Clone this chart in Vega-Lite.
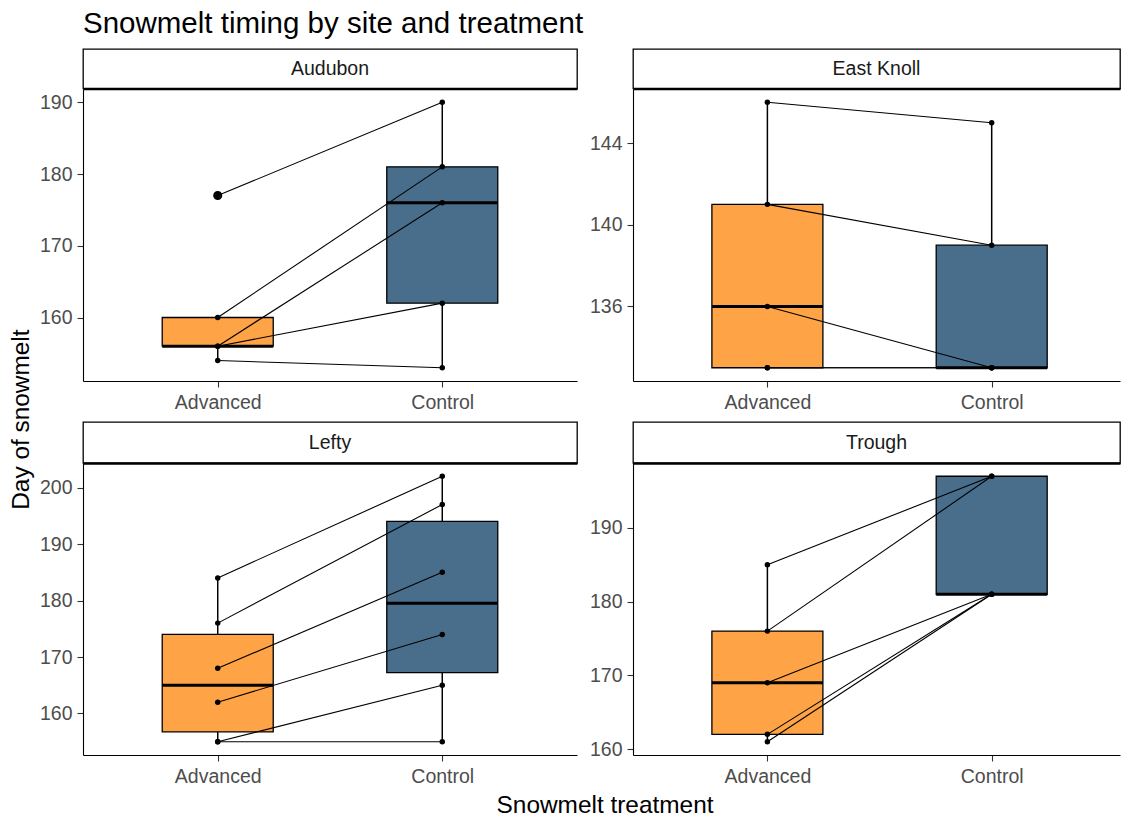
{
  "$schema": "https://vega.github.io/schema/vega-lite/v6.json",
  "background": "white",
  "padding": {"left": 9, "top": 8, "right": 0, "bottom": 0},
  "title": {"text": "Snowmelt timing by site and treatment", "anchor": "start", "frame": "group", "font": "Liberation Sans", "fontSize": 29.5, "fontWeight": "normal", "color": "#000000", "offset": 9},
  "datasets": {
    "snow": [
      {"site": "Audubon", "treatment": "Advanced", "pair": 1, "day": 177},
      {"site": "Audubon", "treatment": "Control", "pair": 1, "day": 190},
      {"site": "Audubon", "treatment": "Advanced", "pair": 2, "day": 160},
      {"site": "Audubon", "treatment": "Control", "pair": 2, "day": 181},
      {"site": "Audubon", "treatment": "Advanced", "pair": 3, "day": 156},
      {"site": "Audubon", "treatment": "Control", "pair": 3, "day": 176},
      {"site": "Audubon", "treatment": "Advanced", "pair": 4, "day": 156},
      {"site": "Audubon", "treatment": "Control", "pair": 4, "day": 162},
      {"site": "Audubon", "treatment": "Advanced", "pair": 5, "day": 154},
      {"site": "Audubon", "treatment": "Control", "pair": 5, "day": 153},
      {"site": "East Knoll", "treatment": "Advanced", "pair": 1, "day": 146},
      {"site": "East Knoll", "treatment": "Control", "pair": 1, "day": 145},
      {"site": "East Knoll", "treatment": "Advanced", "pair": 2, "day": 141},
      {"site": "East Knoll", "treatment": "Control", "pair": 2, "day": 139},
      {"site": "East Knoll", "treatment": "Advanced", "pair": 3, "day": 136},
      {"site": "East Knoll", "treatment": "Control", "pair": 3, "day": 133},
      {"site": "East Knoll", "treatment": "Advanced", "pair": 4, "day": 133},
      {"site": "East Knoll", "treatment": "Control", "pair": 4, "day": 133},
      {"site": "East Knoll", "treatment": "Advanced", "pair": 5, "day": 133},
      {"site": "East Knoll", "treatment": "Control", "pair": 5, "day": 133},
      {"site": "Lefty", "treatment": "Advanced", "pair": 1, "day": 184},
      {"site": "Lefty", "treatment": "Control", "pair": 1, "day": 202},
      {"site": "Lefty", "treatment": "Advanced", "pair": 2, "day": 176},
      {"site": "Lefty", "treatment": "Control", "pair": 2, "day": 197},
      {"site": "Lefty", "treatment": "Advanced", "pair": 3, "day": 168},
      {"site": "Lefty", "treatment": "Control", "pair": 3, "day": 185},
      {"site": "Lefty", "treatment": "Advanced", "pair": 4, "day": 162},
      {"site": "Lefty", "treatment": "Control", "pair": 4, "day": 174},
      {"site": "Lefty", "treatment": "Advanced", "pair": 5, "day": 155},
      {"site": "Lefty", "treatment": "Control", "pair": 5, "day": 165},
      {"site": "Lefty", "treatment": "Advanced", "pair": 6, "day": 155},
      {"site": "Lefty", "treatment": "Control", "pair": 6, "day": 155},
      {"site": "Trough", "treatment": "Advanced", "pair": 1, "day": 185},
      {"site": "Trough", "treatment": "Control", "pair": 1, "day": 197},
      {"site": "Trough", "treatment": "Advanced", "pair": 2, "day": 176},
      {"site": "Trough", "treatment": "Control", "pair": 2, "day": 197},
      {"site": "Trough", "treatment": "Advanced", "pair": 3, "day": 169},
      {"site": "Trough", "treatment": "Control", "pair": 3, "day": 181},
      {"site": "Trough", "treatment": "Advanced", "pair": 4, "day": 162},
      {"site": "Trough", "treatment": "Control", "pair": 4, "day": 181},
      {"site": "Trough", "treatment": "Advanced", "pair": 5, "day": 161},
      {"site": "Trough", "treatment": "Control", "pair": 5, "day": 181}
    ]
  },
  "vconcat": [
    {
      "title": {"text": "Day of snowmelt", "orient": "left", "anchor": "middle", "frame": "bounds", "font": "Liberation Sans", "fontSize": 24.4, "fontWeight": "normal", "color": "#000000", "offset": 5, "dx": 13},
      "vconcat": [
        {
          "title": {"text": "Snowmelt treatment", "orient": "bottom", "anchor": "middle", "frame": "bounds", "font": "Liberation Sans", "fontSize": 24.4, "fontWeight": "normal", "color": "#000000", "offset": 8, "dx": 25},
          "spacing": 9,
          "vconcat": [
            {
              "spacing": 11,
              "hconcat": [
                {
                  "bounds": "flush",
                  "spacing": 0,
                  "vconcat": [
                    {
                      "data": {"name": "snow"},
                      "transform": [{"filter": "datum.site === 'Audubon'"}, {"aggregate": [{"op": "count", "as": "n"}], "groupby": ["site"]}],
                      "width": 494, "height": 39.5,
                      "view": {"stroke": "#000000", "strokeWidth": 1.3, "fill": "white"},
                      "mark": {"type": "text", "font": "Liberation Sans", "fontSize": 19.5, "color": "#1A1A1A"},
                      "encoding": {
                        "x": {"field": "site", "type": "nominal", "scale": {"type": "point"}, "axis": {"labels": false, "ticks": false, "title": null, "domainWidth": 2.6, "domainColor": "#000000", "minExtent": 0, "maxExtent": 0}},
                        "text": {"field": "site"}
                      }
                    },
                    {
                      "data": {"name": "snow"},
                      "transform": [{"filter": "datum.site === 'Audubon'"}],
                      "width": 494, "height": 292,
                      "encoding": {
                        "x": {"field": "treatment", "type": "nominal", "scale": {"type": "point", "padding": 0.6}, "axis": {"title": null}},
                        "y": {"field": "day", "type": "quantitative", "scale": {"domain": [151.15, 191.85], "nice": false, "zero": false}, "axis": {"title": null, "values": [160, 170, 180, 190]}}
                      },
                      "layer": [
                        {"mark": {"type": "boxplot", "size": 111, "extent": 1.5, "box": {"stroke": "#000000", "strokeWidth": 1.3}, "median": {"color": "#000000", "thickness": 3, "opacity": 1}, "rule": {"color": "#000000", "strokeWidth": 1.5}, "outliers": {"stroke": "#000000", "strokeWidth": 2, "filled": true, "size": 50, "opacity": 1}},
                         "encoding": {"color": {"field": "treatment", "type": "nominal", "scale": {"domain": ["Advanced", "Control"], "range": ["#FEA346", "#496E8B"]}, "legend": null}}},
                        {"mark": {"type": "line", "color": "#000000", "strokeWidth": 1.1}, "encoding": {"detail": {"field": "pair", "type": "nominal"}}},
                        {"mark": {"type": "point", "filled": true, "color": "#000000", "size": 30, "opacity": 1}}
                      ]
                    }
                  ]
                },
                {
                  "bounds": "flush",
                  "spacing": 0,
                  "vconcat": [
                    {
                      "data": {"name": "snow"},
                      "transform": [{"filter": "datum.site === 'East Knoll'"}, {"aggregate": [{"op": "count", "as": "n"}], "groupby": ["site"]}],
                      "width": 487, "height": 39.5,
                      "view": {"stroke": "#000000", "strokeWidth": 1.3, "fill": "white"},
                      "mark": {"type": "text", "font": "Liberation Sans", "fontSize": 19.5, "color": "#1A1A1A"},
                      "encoding": {
                        "x": {"field": "site", "type": "nominal", "scale": {"type": "point"}, "axis": {"labels": false, "ticks": false, "title": null, "domainWidth": 2.6, "domainColor": "#000000", "minExtent": 0, "maxExtent": 0}},
                        "text": {"field": "site"}
                      }
                    },
                    {
                      "data": {"name": "snow"},
                      "transform": [{"filter": "datum.site === 'East Knoll'"}],
                      "width": 487, "height": 292,
                      "encoding": {
                        "x": {"field": "treatment", "type": "nominal", "scale": {"type": "point", "padding": 0.5856, "align": 0.5116}, "axis": {"title": null}},
                        "y": {"field": "day", "type": "quantitative", "scale": {"domain": [132.35, 146.65], "nice": false, "zero": false}, "axis": {"title": null, "values": [136, 140, 144]}}
                      },
                      "layer": [
                        {"mark": {"type": "boxplot", "size": 111, "extent": 1.5, "box": {"stroke": "#000000", "strokeWidth": 1.3}, "median": {"color": "#000000", "thickness": 3, "opacity": 1}, "rule": {"color": "#000000", "strokeWidth": 1.5}, "outliers": {"stroke": "#000000", "strokeWidth": 2, "filled": true, "size": 50, "opacity": 1}},
                         "encoding": {"color": {"field": "treatment", "type": "nominal", "scale": {"domain": ["Advanced", "Control"], "range": ["#FEA346", "#496E8B"]}, "legend": null}}},
                        {"mark": {"type": "line", "color": "#000000", "strokeWidth": 1.1}, "encoding": {"detail": {"field": "pair", "type": "nominal"}}},
                        {"mark": {"type": "point", "filled": true, "color": "#000000", "size": 30, "opacity": 1}}
                      ]
                    }
                  ]
                }
              ]
            },
            {
              "spacing": 11,
              "hconcat": [
                {
                  "bounds": "flush",
                  "spacing": 0,
                  "vconcat": [
                    {
                      "data": {"name": "snow"},
                      "transform": [{"filter": "datum.site === 'Lefty'"}, {"aggregate": [{"op": "count", "as": "n"}], "groupby": ["site"]}],
                      "width": 494, "height": 41,
                      "view": {"stroke": "#000000", "strokeWidth": 1.3, "fill": "white"},
                      "mark": {"type": "text", "font": "Liberation Sans", "fontSize": 19.5, "color": "#1A1A1A"},
                      "encoding": {
                        "x": {"field": "site", "type": "nominal", "scale": {"type": "point"}, "axis": {"labels": false, "ticks": false, "title": null, "domainWidth": 2.6, "domainColor": "#000000", "minExtent": 0, "maxExtent": 0}},
                        "text": {"field": "site"}
                      }
                    },
                    {
                      "data": {"name": "snow"},
                      "transform": [{"filter": "datum.site === 'Lefty'"}],
                      "width": 494, "height": 292,
                      "encoding": {
                        "x": {"field": "treatment", "type": "nominal", "scale": {"type": "point", "padding": 0.6}, "axis": {"title": null}},
                        "y": {"field": "day", "type": "quantitative", "scale": {"domain": [152.65, 204.35], "nice": false, "zero": false}, "axis": {"title": null, "values": [160, 170, 180, 190, 200]}}
                      },
                      "layer": [
                        {"mark": {"type": "boxplot", "size": 111, "extent": 1.5, "box": {"stroke": "#000000", "strokeWidth": 1.3}, "median": {"color": "#000000", "thickness": 3, "opacity": 1}, "rule": {"color": "#000000", "strokeWidth": 1.5}, "outliers": {"stroke": "#000000", "strokeWidth": 2, "filled": true, "size": 50, "opacity": 1}},
                         "encoding": {"color": {"field": "treatment", "type": "nominal", "scale": {"domain": ["Advanced", "Control"], "range": ["#FEA346", "#496E8B"]}, "legend": null}}},
                        {"mark": {"type": "line", "color": "#000000", "strokeWidth": 1.1}, "encoding": {"detail": {"field": "pair", "type": "nominal"}}},
                        {"mark": {"type": "point", "filled": true, "color": "#000000", "size": 30, "opacity": 1}}
                      ]
                    }
                  ]
                },
                {
                  "bounds": "flush",
                  "spacing": 0,
                  "vconcat": [
                    {
                      "data": {"name": "snow"},
                      "transform": [{"filter": "datum.site === 'Trough'"}, {"aggregate": [{"op": "count", "as": "n"}], "groupby": ["site"]}],
                      "width": 487, "height": 41,
                      "view": {"stroke": "#000000", "strokeWidth": 1.3, "fill": "white"},
                      "mark": {"type": "text", "font": "Liberation Sans", "fontSize": 19.5, "color": "#1A1A1A"},
                      "encoding": {
                        "x": {"field": "site", "type": "nominal", "scale": {"type": "point"}, "axis": {"labels": false, "ticks": false, "title": null, "domainWidth": 2.6, "domainColor": "#000000", "minExtent": 0, "maxExtent": 0}},
                        "text": {"field": "site"}
                      }
                    },
                    {
                      "data": {"name": "snow"},
                      "transform": [{"filter": "datum.site === 'Trough'"}],
                      "width": 487, "height": 292,
                      "encoding": {
                        "x": {"field": "treatment", "type": "nominal", "scale": {"type": "point", "padding": 0.5856, "align": 0.5116}, "axis": {"title": null}},
                        "y": {"field": "day", "type": "quantitative", "scale": {"domain": [159.2, 198.8], "nice": false, "zero": false}, "axis": {"title": null, "values": [160, 170, 180, 190]}}
                      },
                      "layer": [
                        {"mark": {"type": "boxplot", "size": 111, "extent": 1.5, "box": {"stroke": "#000000", "strokeWidth": 1.3}, "median": {"color": "#000000", "thickness": 3, "opacity": 1}, "rule": {"color": "#000000", "strokeWidth": 1.5}, "outliers": {"stroke": "#000000", "strokeWidth": 2, "filled": true, "size": 50, "opacity": 1}},
                         "encoding": {"color": {"field": "treatment", "type": "nominal", "scale": {"domain": ["Advanced", "Control"], "range": ["#FEA346", "#496E8B"]}, "legend": null}}},
                        {"mark": {"type": "line", "color": "#000000", "strokeWidth": 1.1}, "encoding": {"detail": {"field": "pair", "type": "nominal"}}},
                        {"mark": {"type": "point", "filled": true, "color": "#000000", "size": 30, "opacity": 1}}
                      ]
                    }
                  ]
                }
              ]
            }
          ]
        }
      ]
    }
  ],
  "config": {
    "font": "Liberation Sans",
    "view": {"stroke": null},
    "axis": {"domainColor": "#000000", "domainWidth": 1.1, "tickColor": "#333333", "tickWidth": 1.1, "tickSize": 6, "labelColor": "#4D4D4D", "labelFont": "Liberation Sans", "labelFontSize": 19.5, "grid": false, "titleFont": "Liberation Sans", "titleFontSize": 24.4, "titleFontWeight": "normal", "titleColor": "#000000"},
    "axisX": {"labelAngle": 0, "labelPadding": 6, "minExtent": 30, "maxExtent": 30},
    "axisY": {"labelPadding": 5, "minExtent": 43, "maxExtent": 43}
  }
}
